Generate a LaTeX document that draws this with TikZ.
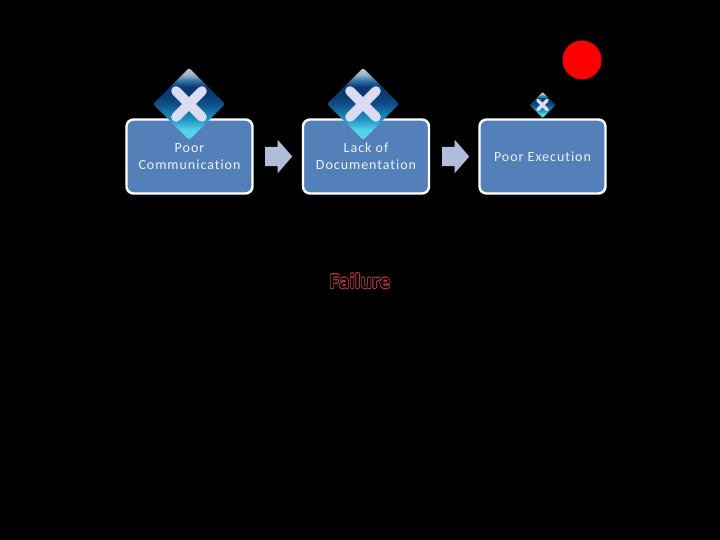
\documentclass[tikz,border=0pt]{standalone}
\usepackage{fontspec}
\usepackage[copies]{contour}
\setmainfont{Carlito}
\newfontfamily\boxfont[LetterSpace=7,Ligatures=NoCommon]{Carlito}
\newfontfamily\failfont[LetterSpace=1.5,Ligatures=NoCommon]{Carlito}
\usetikzlibrary{shapes.arrows}
\definecolor{boxblue}{HTML}{5480BA}
\definecolor{arrowblue}{HTML}{B0BDDB}
\definecolor{failred}{HTML}{B8343A}
\definecolor{xlav}{HTML}{DADCF3}
\definecolor{boxtext}{HTML}{EDF2F8}
\definecolor{gemA}{HTML}{52D4EA}
\definecolor{gemB}{HTML}{1F8FC0}
\definecolor{gemC}{HTML}{0F4F88}
\definecolor{gemD}{HTML}{0B3A72}
\definecolor{gemE}{HTML}{2F6FA5}
\definecolor{gemF}{HTML}{8FB0C8}
\definecolor{gemG}{HTML}{E2EAF0}
\pgfdeclareverticalshading{gemshade}{100bp}{
  color(0bp)=(gemA); color(32bp)=(gemA); color(40bp)=(gemB); color(50bp)=(gemC);
  color(56bp)=(gemD); color(62bp)=(gemD); color(66bp)=(gemE); color(70bp)=(gemF); color(78bp)=(gemG); color(100bp)=(gemG)}
\tikzset{
  x=1pt,y=-1pt,
  stagebox/.style={draw=white,line width=2.4pt,rounded corners=7pt,fill=boxblue,
    minimum width=126pt,minimum height=74pt,inner sep=0pt},
  stagetext/.style={text=boxtext,align=center,font=\boxfont\fontsize{14}{17}\selectfont},
  flowarrow/.style={single arrow,fill=arrowblue,draw=none,minimum height=27pt,
    single arrow head extend=7pt,inner sep=0pt,single arrow tip angle=98,
    single arrow head indent=0pt,shape border rotate=0},
}
\newcommand{\gem}[3]{% x y halfsize
  \begin{scope}[shift={(#1,#2)}]
    \path[shading=gemshade,rounded corners=#3*0.06pt]
      (0,-#3) -- (#3,0) -- (0,#3) -- (-#3,0) -- cycle;
    \draw[xlav,line width=#3*0.27pt,line cap=round]
      (-#3*0.36,-#3*0.36) -- (#3*0.36,#3*0.36)
      (#3*0.36,-#3*0.36) -- (-#3*0.36,#3*0.36);
  \end{scope}}
\begin{document}
\begin{tikzpicture}
\useasboundingbox[fill=black] (0,0) rectangle (720,540);
\node[stagebox] (b1) at (189.5,156.5) {};
\node[stagebox] (b2) at (366,156.5) {};
\node[stagebox] (b3) at (542.5,156.5) {};
\gem{189}{104}{36}
\gem{363}{104}{36}
\gem{542.5}{105}{13}
\node[stagetext] (t1) at (189.5,156.5) {Poor\\Communication};
\node[stagetext] (t2) at (366,156.5) {Lack of\\Documentation};
\node[stagetext] (t3) at (542.5,156.5) {Poor Execution};
\node[flowarrow] (a1) at (274.5,156.5) {\rule{0pt}{19pt}};
\node[flowarrow] (a2) at (451.5,156.5) {\rule{0pt}{19pt}};
\node[circle,fill=red,minimum size=39pt,inner sep=0pt] (dot) at (582,60) {};
\contourlength{0.55pt}
\contournumber{24}
\node[font=\failfont\bfseries\fontsize{21}{24}\selectfont,inner sep=0pt] (fail) at (360,281.5) {\contour{failred}{\textcolor{black}{Failure}}};
\end{tikzpicture}
\end{document}
